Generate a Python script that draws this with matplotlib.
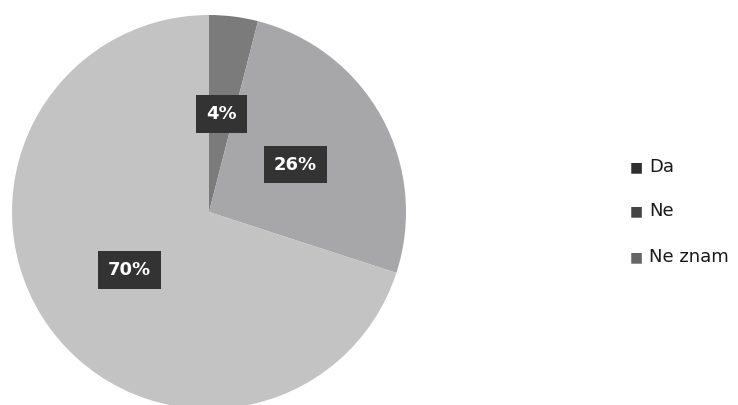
import matplotlib.pyplot as plt

labels = ['Da', 'Ne', 'Ne znam']
values = [4, 26, 70]
colors = ['#7b7b7b', '#a7a6a8', '#c3c3c3']

fig = plt.figure(figsize=(7.38, 4.05), dpi=100)
# pie centre ~(209, 212) px, radius ~197 px
ax = fig.add_axes([12 / 738, (405 - 409) / 405, 394 / 738, 394 / 405])

wedges, texts, autotexts = ax.pie(values, colors=colors, startangle=90, counterclock=False,
                                  autopct='%d%%', pctdistance=0.5, radius=1.0,
                                  wedgeprops=dict(linewidth=0))
for t in autotexts:
    t.set_color('white')
    t.set_fontsize(13)
    t.set_fontweight('bold')
    t.set_bbox(dict(boxstyle='square,pad=0.55', facecolor='#333333', edgecolor='none'))
ax.set_xlim(-1, 1)
ax.set_ylim(-1, 1)
ax.set_aspect('equal')

# legend
leg_y = [167, 211, 257]
for lab, col, y in zip(labels, ['#2e2e2e', '#444444', '#666666'], leg_y):
    fig.text(630 / 738, 1 - y / 405, '\u25a0', color=col, fontsize=10, va='center', ha='left')
    fig.text(649 / 738, 1 - y / 405, lab, color='#1a1a1a', fontsize=13, va='center', ha='left')

fig.savefig('out.png', dpi=100)
